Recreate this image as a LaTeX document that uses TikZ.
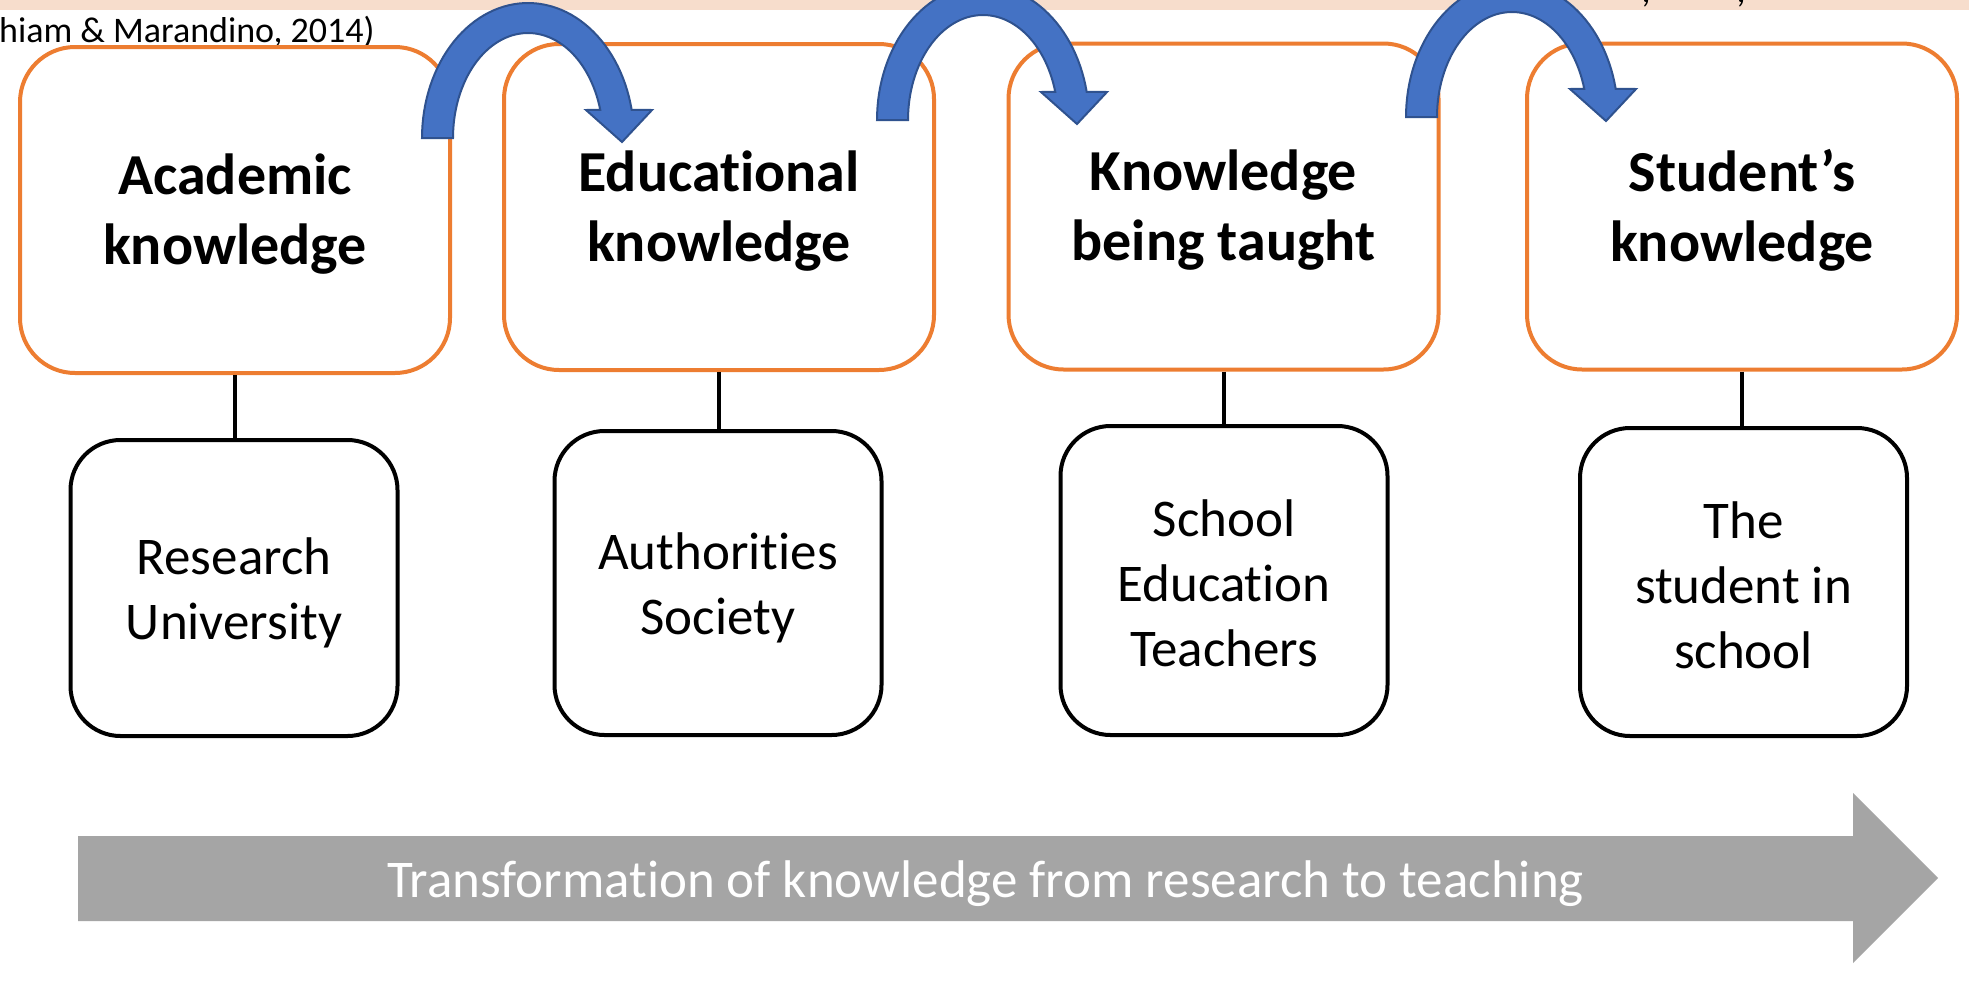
\documentclass[tikz,border=0pt]{standalone}
\usepackage{fontspec}
\setmainfont{Carlito}[Ligatures=NoCommon]
\definecolor{boxorange}{HTML}{ED7D31}
\definecolor{arrowblue}{HTML}{4472C4}
\definecolor{arrowedge}{HTML}{2F528F}
\definecolor{arrowgray}{HTML}{A5A5A5}
\definecolor{bandpink}{HTML}{F7DDCC}
\newcommand{\bluecurve}[2]{%
  \filldraw[fill=arrowblue, draw=arrowedge, line width=2pt, line join=miter]
  ({#1-106},#2) -- plot[domain=180:348, samples=60] ({#1+106*cos(\x)},{#2+135*sin(\x)})
  -- ({#1+124},{#2-28}) -- ({#1+94},{#2+4}) -- ({#1+58},{#2-28})
  -- plot[domain=344.5:180, samples=60] ({#1+75*cos(\x)},{#2+105*sin(\x)}) -- cycle;}
\begin{document}
\begin{tikzpicture}[x=1pt,y=-1pt,
  topbox/.style={draw=boxorange, line width=4pt, rounded corners=55pt,
    minimum width=430pt, minimum height=326pt},
  toptext/.style={align=center, inner sep=0pt,
    font=\bfseries\fontsize{58}{70}\selectfont},
  botbox/.style={draw=black, line width=4pt, rounded corners=50pt,
    minimum width=327pt},
  bottext/.style={align=center, inner sep=0pt,
    font=\fontsize{53}{65}\selectfont},
  conn/.style={draw=black, line width=4pt},
  citefont/.style={font=\fontsize{36}{42}\selectfont, inner sep=0pt}]
\useasboundingbox (0,0) rectangle (1969,980);
\fill[white] (0,0) rectangle (1969,980);
\fill[bandpink] (0,0) rectangle (1969,9.5);
\node[citefont, anchor=base west] (cite) at (-1,42.7) {hiam \& Marandino, 2014)};
\node[citefont, anchor=base] (cma) at (1646,2) {,};
\node[citefont, anchor=base] (cmb) at (1741,2) {,};

\node[topbox] (t1) at (235,210) {};
\node[topbox] (t2) at (719,207) {};
\node[topbox] (t3) at (1223.5,206.5) {};
\node[topbox] (t4) at (1742,206.5) {};
\node[toptext] (t1x) at ([yshift=-4pt]t1.center) {Academic\\knowledge};
\node[toptext] (t2x) at ([yshift=-4pt]t2.center) {Educational\\knowledge};
\node[toptext] (t3x) at ([yshift=-4pt]t3.center) {Knowledge\\being taught};
\node[toptext] (t4x) at ([yshift=-4pt]t4.center) {Student’s\\knowledge};

\node[botbox, minimum height=296pt] (b1) at (234,588) {};
\node[botbox, minimum height=304pt] (b2) at (718,583) {};
\node[botbox, minimum height=309pt] (b3) at (1224,580.5) {};
\node[botbox, minimum height=308pt] (b4) at (1743.5,582) {};
\node[bottext] (b1x) at ([yshift=-5pt]b1.center) {Research\\University};
\node[bottext] (b2x) at ([yshift=-5pt]b2.center) {Authorities\\Society};
\node[bottext] (b3x) at ([yshift=-3pt]b3.center) {School\\Education\\Teachers};
\node[bottext] (b4x) at ([yshift=-3pt]b4.center) {The\\student in\\school};

\draw[conn] (t1.south) -- (t1.south |- b1.north);
\draw[conn] (t2.south) -- (t2.south |- b2.north);
\draw[conn] (t3.south) -- (t3.south |- b3.north);
\draw[conn] (t4.south) -- (t4.south |- b4.north);

\bluecurve{528}{138}
\bluecurve{983}{120}
\bluecurve{1512}{117}

\fill[arrowgray] (78,836) -- (1853,836) -- (1853,793) -- (1938,878)
  -- (1853,963) -- (1853,921) -- (78,921) -- cycle;
\node[text=white, font=\fontsize{53}{64}\selectfont, anchor=base, inner sep=0pt]
  (flow) at (985.5,897) {Transformation of knowledge from research to teaching};
\end{tikzpicture}
\end{document}
